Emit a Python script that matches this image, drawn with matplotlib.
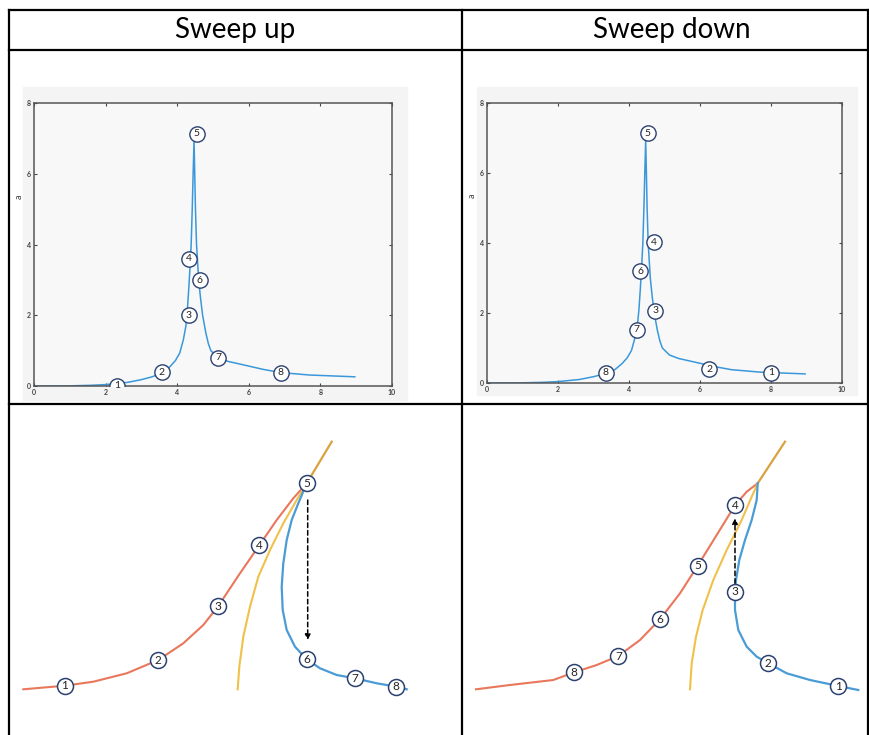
import matplotlib
matplotlib.use('Agg')
import matplotlib.pyplot as plt
from matplotlib.patches import Rectangle

plt.rcParams['font.family'] = ['Lato', 'DejaVu Sans']

# Frequency response curve (x: drive frequency, y: amplitude)
freq = [0.0, 0.8, 1.2, 1.6, 2.0, 2.3, 2.6, 3.0, 3.3, 3.6, 3.8, 3.95, 4.07,
        4.17, 4.24, 4.28, 4.32, 4.36, 4.39, 4.42, 4.445, 4.47,
        4.49, 4.51, 4.54, 4.57, 4.6, 4.65, 4.71, 4.8, 4.87, 4.94, 5.14,
        5.4, 5.84, 6.4, 6.89, 7.7, 8.96]
amp = [0.0, 0.0, 0.01, 0.02, 0.04, 0.07, 0.1, 0.18, 0.26, 0.38, 0.55, 0.72, 0.93,
       1.3, 1.68, 2.1, 2.7, 3.4, 4.0, 5.0, 6.0, 6.95,
       6.0, 5.0, 4.0, 3.5, 3.0, 2.5, 2.0, 1.5, 1.2, 1.0, 0.8,
       0.7, 0.6, 0.47, 0.38, 0.31, 0.26]

# Numbered states on the response curve
up_x = [2.33, 3.57, 4.33, 4.33, 4.54, 4.63, 5.14, 6.89]
up_y = [0.0, 0.39, 2.0, 3.6, 7.13, 2.99, 0.80, 0.38]
down_x = [8.01, 6.26, 4.74, 4.70, 4.53, 4.31, 4.22, 3.34]
down_y = [0.30, 0.40, 2.06, 4.02, 7.14, 3.19, 1.52, 0.29]
labels = ['1', '2', '3', '4', '5', '6', '7', '8']
headers = ['Sweep up', 'Sweep down']

# Sketch of the branches near the fold (sweep up)
su_orange_x = [13.3, 55, 83.3, 116.7, 148.3, 173.3, 193.3, 208.3, 230, 249.3, 266.7, 283.3, 296.7]
su_orange_y = [45.7, 49.3, 53.3, 61.7, 75, 91.7, 110, 129, 161.7, 189.7, 215, 236.7, 251.7]
su_top_x = [296.7, 321.7]
su_top_y = [251.7, 293.3]
su_yellow_x = [227.7, 229.3, 233.3, 240, 248.3, 260, 273.3, 286.7, 296.7]
su_yellow_y = [45.7, 68.3, 98.3, 128.3, 158.3, 185, 211.7, 235, 251.7]
su_blue_x = [296.7, 288.3, 281.7, 276.7, 273.3, 271.7, 272.7, 276.7, 285, 296.7, 310, 326.7, 345, 366.7, 386.7, 396.7]
su_blue_y = [251.7, 231.7, 215, 195, 171.7, 148.3, 125, 105, 88.3, 75.7, 66.7, 60, 56.7, 51.7, 48.3, 45.7]
su_jump = [(297.7, 235), (297.7, 95)]
su_mark_x = [55, 148.3, 208.3, 249.3, 296.7, 296.7, 345, 386]
su_mark_y = [49.3, 75, 129, 189.7, 251.7, 75.7, 56.7, 48.3]

# Sketch of the branches near the fold (sweep down)
sd_orange_x = [14, 48, 91.3, 112.3, 134.7, 156.3, 178, 198, 218, 235.7, 254.7, 273, 284.7, 295.7]
sd_orange_y = [45.7, 50, 55, 62.7, 70, 79, 95, 115.7, 141.7, 169.3, 200, 229.7, 243.3, 251.7]
sd_top_x = [295.7, 323]
sd_top_y = [251.7, 293.3]
sd_yellow_x = [228, 229.7, 234, 240.7, 251.3, 264.7, 279.7, 289.7, 295.7]
sd_yellow_y = [45.7, 71.7, 98.3, 125, 155, 185, 215, 238.3, 251.7]
sd_blue_x = [295.7, 294.7, 289.7, 283, 277.3, 274, 273, 273, 276.3, 284.7, 294.7, 306.3, 324.7, 348, 376.3, 396.3]
sd_blue_y = [251.7, 235, 215, 195, 175, 155, 143.3, 125, 105, 88.3, 78.3, 71.7, 61.7, 55, 49, 45]
sd_jump = [(273, 151.7), (273, 216.7)]
sd_mark_x = [376.3, 306.3, 273, 273, 235.7, 198, 156.3, 112.3]
sd_mark_y = [49, 71.7, 143.3, 229.7, 169.3, 115.7, 79, 62.7]

W, H = 870, 735
fig = plt.figure(figsize=(W / 100, H / 100), dpi=100)

# full-figure layer in pixel units for the table grid
base = fig.add_axes([0, 0, 1, 1])
base.set_xlim(0, W)
base.set_ylim(H, 0)
base.axis('off')

lw_table = 1.6
for y in [10, 50, 404]:
    base.plot([9, 868], [y, y], color='black', lw=lw_table)
for x in [9, 462, 868]:
    base.plot([x, x], [10, 736], color='black', lw=lw_table)
base.text(235, 30, headers[0], ha='center', va='center', fontsize=20)
base.text(672, 30, headers[1], ha='center', va='center', fontsize=20)

# grey figure backgrounds behind the response plots
base.add_patch(Rectangle((23, 87), 384, 313, color='#F4F4F4', zorder=0))
base.add_patch(Rectangle((477, 87), 380, 308, color='#F4F4F4', zorder=0))

blue = '#3A98DA'
ring = '#2C4170'


def px_axes(left, top, right, bottom):
    return fig.add_axes([left / W, (H - bottom) / H, (right - left) / W, (bottom - top) / H])


def response_plot(ax, mx, my):
    ax.set_facecolor('#F8F8F8')
    ax.plot(freq, amp, color=blue, lw=1.1, zorder=2)
    ax.plot(mx, my, 'o', ms=11, mfc='white', mec=ring, mew=1.0, zorder=3)
    for x, y, t in zip(mx, my, labels):
        ax.text(x, y, t, ha='center', va='center', fontsize=7.5, color='#222222', zorder=4)
    ax.set_xlim(0, 10)
    ax.set_ylim(0, 8)
    ax.set_xticks([0, 2, 4, 6, 8, 10])
    ax.set_yticks([0, 2, 4, 6, 8])
    ax.tick_params(direction='in', length=2.5, width=0.8, color='#444444',
                   labelsize=5, labelcolor='#444444', pad=2,
                   top=True, right=True)
    for lab in ax.get_xticklabels() + ax.get_yticklabels():
        lab.set_fontweight('bold')
    for s in ax.spines.values():
        s.set_color('#555555')
        s.set_linewidth(1.1)
    ax.set_ylabel('a', fontsize=6.5, color='#444444')
    ax.yaxis.set_label_coords(-0.03, 0.67)


ax1 = px_axes(34, 103, 392, 386)
response_plot(ax1, up_x, up_y)
ax2 = px_axes(487, 103, 842, 383)
response_plot(ax2, down_x, down_y)


def branch_sketch(ax, o, top, yel, bl, jump, mx, my):
    ax.plot(o[0], o[1], color='#E9775C', lw=1.5)
    ax.plot(yel[0], yel[1], color='#F0C14A', lw=1.5)
    ax.plot(top[0], top[1], color='#D9A23E', lw=1.6)
    ax.plot(bl[0], bl[1], color='#4A9BD6', lw=1.6)
    ax.annotate('', xy=jump[1], xytext=jump[0],
                arrowprops=dict(arrowstyle='-|>', color='black', lw=1.1,
                                linestyle=(0, (3, 2)), mutation_scale=8,
                                shrinkA=0, shrinkB=0))
    ax.plot(mx, my, 'o', ms=11.5, mfc='white', mec=ring, mew=1.1, zorder=3)
    for x, y, t in zip(mx, my, labels):
        ax.text(x, y, t, ha='center', va='center', fontsize=8.5, color='#222222', zorder=4)
    ax.axis('off')


ax3 = px_axes(10, 405, 461, 735)
ax3.set_xlim(0, 451)
ax3.set_ylim(0, 330)
branch_sketch(ax3, (su_orange_x, su_orange_y), (su_top_x, su_top_y),
              (su_yellow_x, su_yellow_y), (su_blue_x, su_blue_y),
              su_jump, su_mark_x, su_mark_y)

ax4 = px_axes(462, 405, 869, 735)
ax4.set_xlim(0, 407)
ax4.set_ylim(0, 330)
branch_sketch(ax4, (sd_orange_x, sd_orange_y), (sd_top_x, sd_top_y),
              (sd_yellow_x, sd_yellow_y), (sd_blue_x, sd_blue_y),
              sd_jump, sd_mark_x, sd_mark_y)

fig.savefig('out.png', dpi=100)
